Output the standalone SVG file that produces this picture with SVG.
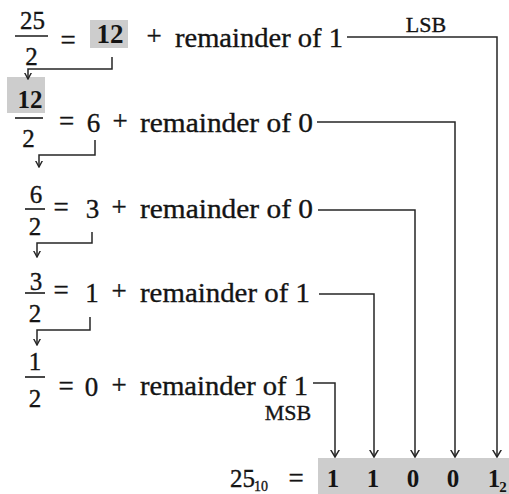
<svg xmlns="http://www.w3.org/2000/svg" width="509" height="494" viewBox="0 0 509 494">
<style>
text{font-family:"Liberation Serif","Times New Roman",serif;fill:#141414;stroke:#141414;stroke-width:0.35}
.f{font-size:25px;text-anchor:middle}
.m{font-size:27px;text-anchor:middle}
.r{font-size:28px}
.b{font-weight:bold;text-anchor:middle;stroke-width:0}
.lbl{font-size:22px;text-anchor:middle}
.bar{stroke:#1a1a1a;stroke-width:1.6}
.box{fill:#cdcdcd}
.c{fill:none;stroke:#262626;stroke-width:1.5}
</style>
<defs>
<marker id="arr" viewBox="0 0 8 10" refX="7.5" refY="5" markerWidth="8" markerHeight="10" markerUnits="userSpaceOnUse" orient="auto">
<path d="M0,0.5 L7.5,5 L0,9.5" fill="none" stroke="#262626" stroke-width="1.5"/>
</marker>
<marker id="arrS" viewBox="0 0 7 8" refX="6.5" refY="4" markerWidth="7" markerHeight="8" markerUnits="userSpaceOnUse" orient="auto">
<path d="M0,0.5 L6.5,4 L0,7.5" fill="none" stroke="#262626" stroke-width="1.4"/>
</marker>
</defs>
<g id="row1">
<text class="f" x="32.5" y="29">25</text>
<line class="bar" x1="15" y1="36" x2="48" y2="36"/>
<text class="f" x="31.5" y="65">2</text>
<text class="m" x="68" y="49">=</text>
<rect class="box" x="90" y="20" width="38" height="28"/>
<text class="b" x="110" y="43" font-size="27">12</text>
<text class="m" x="154" y="45">+</text>
<text class="r" x="175" y="47" textLength="168" lengthAdjust="spacingAndGlyphs">remainder of 1</text>
<text class="lbl" x="426" y="32">LSB</text>
</g>
<g id="row2">
<rect class="box" x="7" y="77" width="38" height="36"/>
<text class="b" x="30" y="108" font-size="25">12</text>
<line class="bar" x1="15" y1="118" x2="43" y2="118"/>
<text class="f" x="28.5" y="147">2</text>
<text class="m" x="66.5" y="130">=</text>
<text class="m" x="93.5" y="132">6</text>
<text class="m" x="120" y="130">+</text>
<text class="r" x="140" y="132" textLength="173" lengthAdjust="spacingAndGlyphs">remainder of 0</text>
</g>
<g id="row3">
<text class="f" x="36" y="203">6</text>
<line class="bar" x1="25" y1="209" x2="45" y2="209"/>
<text class="f" x="35" y="235">2</text>
<text class="m" x="61" y="216">=</text>
<text class="m" x="92.5" y="218">3</text>
<text class="m" x="119" y="216">+</text>
<text class="r" x="140" y="218" textLength="173" lengthAdjust="spacingAndGlyphs">remainder of 0</text>
</g>
<g id="row4">
<text class="f" x="36" y="290">3</text>
<line class="bar" x1="25" y1="293" x2="45" y2="293"/>
<text class="f" x="35" y="322">2</text>
<text class="m" x="61" y="299">=</text>
<text class="m" x="92" y="302">1</text>
<text class="m" x="119" y="300">+</text>
<text class="r" x="140" y="302" textLength="170" lengthAdjust="spacingAndGlyphs">remainder of 1</text>
</g>
<g id="row5">
<text class="f" x="35" y="370">1</text>
<line class="bar" x1="25" y1="377" x2="45" y2="377"/>
<text class="f" x="35" y="407">2</text>
<text class="m" x="66" y="395">=</text>
<text class="m" x="91.5" y="396">0</text>
<text class="m" x="119" y="394">+</text>
<text class="r" x="140" y="395" textLength="168" lengthAdjust="spacingAndGlyphs">remainder of 1</text>
<text class="lbl" x="288" y="420">MSB</text>
</g>
<g id="result">
<text class="f" x="242.5" y="487">25</text>
<text x="254" y="491" font-size="14">10</text>
<text class="m" x="296" y="487">=</text>
<rect class="box" x="318" y="458" width="191" height="36"/>
<text class="b" x="333" y="487" font-size="25">1</text>
<text class="b" x="373" y="487" font-size="25">1</text>
<text class="b" x="413" y="487" font-size="25">0</text>
<text class="b" x="453" y="487" font-size="25">0</text>
<text class="b" x="494" y="487" font-size="25">1</text>
<text class="b" x="503" y="492" font-size="15">2</text>
</g>
<g id="connectors">
<path class="c" d="M112,57 V69 H28 V79" marker-end="url(#arrS)"/>
<path class="c" d="M95,140 V155 H39 V167" marker-end="url(#arrS)"/>
<path class="c" d="M92,232 V243 H37 V257" marker-end="url(#arrS)"/>
<path class="c" d="M90,317 V330 H37 V345" marker-end="url(#arrS)"/>
<path class="c" d="M347,37 H497 V457" marker-end="url(#arr)"/>
<path class="c" d="M317,122 H455 V457" marker-end="url(#arr)"/>
<path class="c" d="M318,210 H415 V457" marker-end="url(#arr)"/>
<path class="c" d="M319,294 H374 V457" marker-end="url(#arr)"/>
<path class="c" d="M313,383 H335 V457" marker-end="url(#arr)"/>
</g>
</svg>
